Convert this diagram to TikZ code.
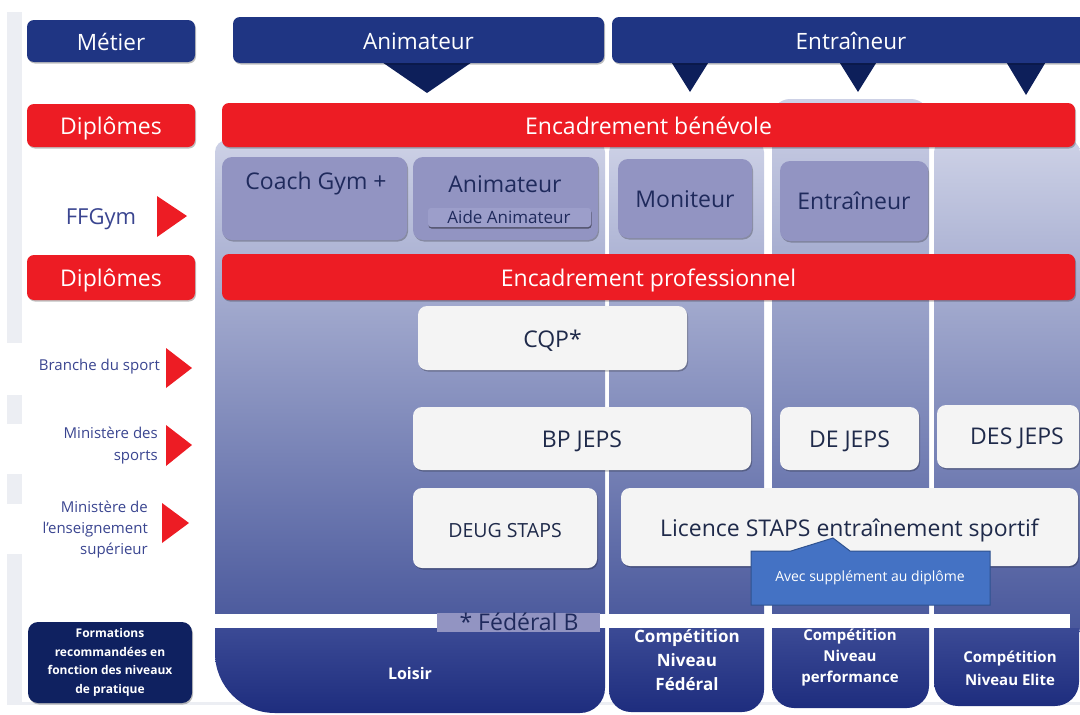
\documentclass[tikz,border=0pt]{standalone}
\usepackage{fontspec}
\setmainfont{Open Sans}
\usetikzlibrary{shadows}
\definecolor{navy}{HTML}{1F3583}
\definecolor{darknavy}{HTML}{0D1F5A}
\definecolor{myred}{HTML}{ED1C24}
\definecolor{lav}{HTML}{9294C2}
\definecolor{lavlight}{HTML}{9C9ECA}
\definecolor{lavtext}{HTML}{1F2A5C}
\definecolor{boxw}{HTML}{F4F4F4}
\definecolor{boxtext}{HTML}{1F2A4A}
\definecolor{labtext}{HTML}{3A4590}
\definecolor{coltop}{HTML}{CDD1E6}
\definecolor{colbot}{HTML}{46559A}
\definecolor{lowtop}{HTML}{3B4A95}
\definecolor{lowbot}{HTML}{1E2D7E}
\definecolor{callout}{HTML}{4472C4}
\definecolor{calloutb}{HTML}{2F528F}
\definecolor{formbox}{HTML}{0F2160}
\definecolor{stripc}{HTML}{ECEEF3}
\newcommand\mybox[7]{\node[#2, minimum width={(#5-#3)*1pt}, minimum height={(#6-#4)*1pt}] (#1) at ({(#3+#5)/2},{(#4+#6)/2}) {#7};}
\newcommand\fsz[2]{\fontsize{#1}{#2}\selectfont}
\begin{document}
\begin{tikzpicture}[x=1pt,y=-1pt,
  shad/.style={drop shadow={shadow xshift=1pt,shadow yshift=-1.5pt,opacity=0.25,fill=black}},
  hdr/.style={fill=navy, rounded corners=7pt, text=white, inner sep=0pt, font=\fsz{22.5}{27}, text height=20pt, text depth=2pt, shad},
  redbar/.style={fill=myred, rounded corners=7pt, text=white, inner sep=0pt, font=\fsz{23}{27}, text height=20pt, text depth=2pt, shad},
  lavbox/.style={fill=lav, rounded corners=10pt, inner sep=0pt, shad},
  lavtxt/.style={text=lavtext, inner sep=0pt, font=\fsz{23}{27}},
  wbox/.style={fill=boxw, rounded corners=9pt, text=boxtext, inner sep=0pt, font=\fsz{23}{27}, text height=20pt, text depth=2pt, shad},
  wtxt/.style={text=boxtext, inner sep=0pt, font=\fsz{23}{27}},
  lab/.style={text=labtext, inner sep=0pt, align=right},
  lowtxt/.style={text=white, inner sep=0pt, align=center},
  redtri/.style={fill=myred},
  navytri/.style={fill=darknavy}
]
\useasboundingbox (0,0) rectangle (1080,715);
% left strip
\fill[stripc] (7,12) rectangle (22,343);
\fill[stripc] (7,395) rectangle (22,424);
\fill[stripc] (7,474) rectangle (22,504);
\fill[stripc] (7,554) rectangle (22,705);
\fill[stripc] (7,702) rectangle (1080,705);
% columns, upper parts
\path[top color=coltop, bottom color=colbot, rounded corners=12pt] (215,140) rectangle (605,640);
\path[top color=coltop, bottom color=colbot, rounded corners=12pt] (609,140) rectangle (764,640);
\path[top color=coltop, bottom color=colbot, rounded corners=18pt] (772,99) rectangle (929,640);
\path[top color=coltop, bottom color=colbot, rounded corners=12pt] (934,140) rectangle (1080,640);
% columns, lower parts
\path[top color=lowtop, bottom color=lowbot] (215,628) -- (605,628) -- (605,688) arc (0:90:25) -- (275,713) arc (90:180:60) -- cycle;
\path[top color=lowtop, bottom color=lowbot] (609,628) -- (764,628) -- (764,690) arc (0:90:22) -- (631,712) arc (90:180:22) -- cycle;
\path[top color=lowtop, bottom color=lowbot] (772,628) -- (929,628) -- (929,686) arc (0:90:22) -- (794,708) arc (90:180:22) -- cycle;
\path[top color=lowtop, bottom color=lowbot] (934,628) -- (1079,628) -- (1079,682) arc (0:90:24) -- (958,706) arc (90:180:24) -- cycle;
% white band
\fill[white] (215,614) rectangle (1070,628);
% header row
\fill[navytri] (379,60) -- (475,60) -- (427,93) -- cycle;
\fill[navytri] (670,60) -- (710,60) -- (690,92) -- cycle;
\fill[navytri] (838,60) -- (878,60) -- (858,92) -- cycle;
\fill[navytri] (1005,60) -- (1047,60) -- (1026,95) -- cycle;
\mybox{metier}{hdr}{27}{20}{195}{62}{Métier}
\mybox{anim}{hdr}{233}{17}{604}{63}{Animateur}
\mybox{entr}{hdr}{612}{17}{1090}{63}{Entraîneur}
% red bars
\mybox{dipl1}{redbar}{27}{104}{195}{147}{Diplômes}
\mybox{dipl2}{redbar}{27}{255}{195}{300}{Diplômes}
\mybox{benev}{redbar}{222}{103}{1075}{147}{Encadrement bénévole}
\mybox{prof}{redbar}{222}{254}{1075}{300}{Encadrement professionnel}
% FFGym boxes
\mybox{coach}{lavbox}{222}{157}{407}{240}{}
\node[lavtxt] (coacht) at (316,184) {Coach Gym +};
\mybox{animf}{lavbox}{413}{157}{598}{240}{}
\node[lavtxt] (animft) at (505,184) {Animateur};
\mybox{aide}{fill=lavlight, rounded corners=3pt, inner sep=0pt, drop shadow={shadow xshift=0.5pt,shadow yshift=-1.5pt,opacity=0.45,fill=black}}{428}{208}{591}{227}{}
\node[lavtxt, font=\fsz{17}{20}] (aidet) at (509,217) {Aide Animateur};
\mybox{monit}{lavbox}{618}{159}{752}{238}{}
\node[lavtxt] (monitt) at (685,199) {Moniteur};
\mybox{entrf}{lavbox}{780}{161}{928}{241}{}
\node[lavtxt] (entrft) at (854,201) {Entraîneur};
% professional diplomas
\mybox{cqp}{wbox}{418}{306}{687}{370}{CQP*}
\mybox{bpjeps}{wbox}{413}{407}{751}{470}{BP JEPS}
\mybox{dejeps}{wbox}{780}{407}{919}{470}{DE JEPS}
\mybox{desjeps}{wbox}{937}{405}{1079}{468}{}
\node[wtxt] (desjepst) at (1017,438) {DES JEPS};
\mybox{deug}{wbox, font=\fsz{19.5}{23}}{413}{488}{597}{568}{DEUG STAPS}
\mybox{licence}{wbox}{621}{488}{1078}{566}{Licence STAPS entraînement sportif}
% callout
\path[fill=callout, draw=calloutb, line width=1pt] (751,551) -- (791,551) -- (833,538) -- (850,551) -- (990,551) -- (990,605) -- (751,605) -- cycle;
\node[text=white, inner sep=0pt, font=\fsz{14}{16}] (avec) at (870,578) {Avec supplément au diplôme};
% Federal B
\fill[lav] (437,613) rectangle (600,632);
\node[lavtxt] (fedb) at (519,622) {* Fédéral B};
% practice levels
\node[lowtxt, font=\bfseries\fsz{16}{20}] (loisir) at (410,673) {Loisir};
\node[lowtxt, font=\bfseries\fsz{17}{24}] (fed) at (687,660) {Compétition\\Niveau\\Fédéral};
\node[lowtxt, font=\bfseries\fsz{15}{21}] (perf) at (850,658) {Compétition\\Niveau\\performance};
\node[lowtxt, font=\bfseries\fsz{15}{23}] (elite) at (1010,668) {Compétition\\Niveau Elite};
% left labels
\node[lab, font=\fsz{22}{26}] (ffgym) at (101,219) {FFGym};
\fill[redtri] (157,196) -- (187,216) -- (157,237) -- cycle;
\node[lab, anchor=east, font=\fsz{15}{20}] (branche) at (160,367) {Branche du sport};
\fill[redtri] (166,348) -- (192,368) -- (166,388) -- cycle;
\node[lab, anchor=east, font=\fsz{15}{22}] (minsp) at (158,446) {Ministère des\\sports};
\fill[redtri] (166,425) -- (192,445) -- (166,466) -- cycle;
\node[lab, anchor=east, font=\fsz{15}{21}] (minens) at (148,530) {Ministère de\\l’enseignement\\supérieur};
\fill[redtri] (162,503) -- (189,523) -- (162,543) -- cycle;
\mybox{form}{fill=formbox, rounded corners=10pt, text=white, inner sep=0pt, align=center, font=\bfseries\fsz{12}{18.7}, shad}{28}{622}{192}{703}{Formations\\recommandées en\\fonction des niveaux\\de pratique}
\end{tikzpicture}
\end{document}
